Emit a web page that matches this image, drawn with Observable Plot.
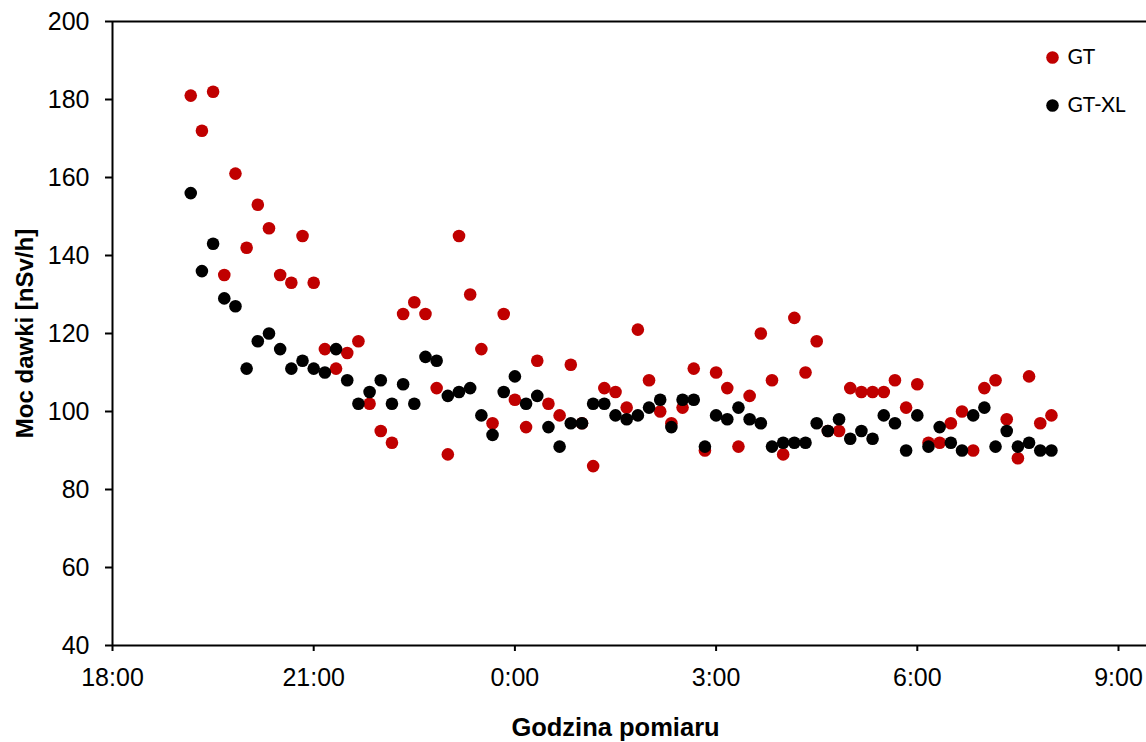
<!DOCTYPE html>
<html>
<head>
<meta charset="utf-8">
<script src="https://cdn.jsdelivr.net/npm/d3@7"></script>
<script src="https://cdn.jsdelivr.net/npm/@observablehq/plot@0.6"></script>
<style>
  html, body { margin: 0; padding: 0; background: #fff; }
  #chart svg { display: block; }
</style>
</head>
<body>
<div id="chart"></div>
<script>
// ---- data ----
const times = ["19:10","19:20","19:30","19:40","19:50","20:00","20:10","20:20","20:30","20:40","20:50",
  "21:00","21:10","21:20","21:30","21:40","21:50","22:00","22:10","22:20","22:30","22:40","22:50",
  "23:00","23:10","23:20","23:30","23:40","23:50","0:00","0:10","0:20","0:30","0:40","0:50",
  "1:00","1:10","1:20","1:30","1:40","1:50","2:00","2:10","2:20","2:30","2:40","2:50",
  "3:00","3:10","3:20","3:30","3:40","3:50","4:00","4:10","4:20","4:30","4:40","4:50",
  "5:00","5:10","5:20","5:30","5:40","5:50","6:00","6:10","6:20","6:30","6:40","6:50",
  "7:00","7:10","7:20","7:30","7:40","7:50","8:00"];

const gt = [181,172,182,135,161,142,153,147,135,133,145,133,116,111,115,118,102,95,92,125,
  128,125,106,89,145,130,116,97,125,103,96,113,102,99,112,97,86,106,105,101,
  121,108,100,97,101,111,90,110,106,91,104,120,108,89,124,110,118,95,95,106,
  105,105,105,108,101,107,92,92,97,100,90,106,108,98,88,109,97,99];

const gtxl = [156,136,143,129,127,111,118,120,116,111,113,111,110,116,108,102,105,108,102,107,
  102,114,113,104,105,106,99,94,105,109,102,104,96,91,97,97,102,102,99,98,
  99,101,103,96,103,103,91,99,98,101,98,97,91,92,92,92,97,95,98,93,
  95,93,99,97,90,99,91,96,92,90,99,101,91,95,91,92,90,90];

const seriesNames = ["GT", "GT-XL"];
const seriesColors = ["#C00000", "#000000"];

const xTicks = [18, 21, 24, 27, 30, 33];
const yTicks = [40, 60, 80, 100, 120, 140, 160, 180, 200];

const xTitle = "Godzina pomiaru";
const yTitle = "Moc dawki [nSv/h]";

// ---- build table ----
function toHours(t) {
  const [h, m] = t.split(":").map(Number);
  return (h < 12 ? h + 24 : h) + m / 60;
}
const rows = [];
[gt, gtxl].forEach((vals, s) => {
  vals.forEach((v, i) => rows.push({series: seriesNames[s], t: toHours(times[i]), v}));
});

const W = 1146, H = 742;
const mL = 112, mR = 0, mT = 21, mB = 97;
// plot area extends past 9:00 to the right edge (about 67.07 px per hour)
const xMax = 18 + (W - mL) / ((1118 - mL) / 15);

// legend marks (one row per series)
const legendRowDy = [36, 84];
const legendMarks = seriesNames.flatMap((name, i) => [
  Plot.dot([name], {frameAnchor: "top-right", dx: -94, dy: legendRowDy[i], fill: seriesColors[i], r: 6.3}),
  Plot.text([name], {frameAnchor: "top-right", dx: -79, dy: legendRowDy[i], textAnchor: "start", lineAnchor: "middle",
    fontFamily: "Lato, 'Open Sans', sans-serif", fontSize: 21, fill: "#000"})
]);

const chart = Plot.plot({
  width: W,
  height: H,
  marginLeft: mL,
  marginRight: mR,
  marginTop: mT,
  marginBottom: mB,
  style: {fontFamily: "'Liberation Sans', Arial, sans-serif", fontSize: "25px", color: "#000", background: "#fff"},
  x: {domain: [18, xMax]},
  y: {domain: [40, 200]},
  color: {domain: seriesNames, range: seriesColors},
  marks: [
    Plot.ruleY([40], {stroke: "#000", strokeWidth: 2}),
    Plot.ruleY([200], {stroke: "#000", strokeWidth: 2}),
    Plot.ruleX([18], {stroke: "#000", strokeWidth: 2}),
    Plot.axisY({ticks: yTicks, tickSize: 7, tickPadding: 16, tickFormat: d => d, fontSize: 25, label: null, stroke: "#000", strokeWidth: 2}),
    Plot.axisX({ticks: xTicks, tickSize: 6, tickPadding: 17, tickFormat: d => `${d % 24}:00`, fontSize: 25, label: null, stroke: "#000", strokeWidth: 2}),
    Plot.dot(rows, {x: "t", y: "v", fill: "series", r: 6.3, stroke: null}),
    // axis titles
    Plot.text([xTitle], {frameAnchor: "bottom", dx: -14, dy: 82, textAnchor: "middle", lineAnchor: "middle", fontSize: 25.5, fontWeight: "bold", fill: "#000"}),
    Plot.text([yTitle], {frameAnchor: "left", dx: -87, rotate: -90, textAnchor: "middle", lineAnchor: "middle", fontSize: 24, fontWeight: "bold", fill: "#000"}),
    ...legendMarks
  ]
});

document.getElementById("chart").appendChild(chart);
</script>
</body>
</html>
